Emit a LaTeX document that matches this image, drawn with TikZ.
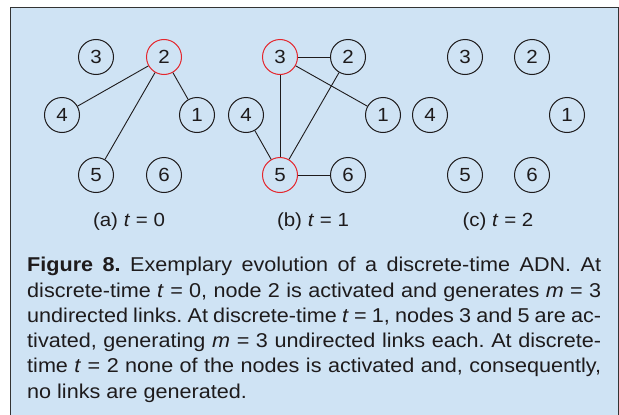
\documentclass[tikz,border=0pt]{standalone}
\usepackage{fontspec}
\setmainfont[FakeStretch=1.08]{Liberation Sans}
\definecolor{bgblue}{RGB}{207,227,244}
\definecolor{actred}{RGB}{228,38,45}
\definecolor{txt}{RGB}{30,27,28}
\begin{document}
\frenchspacing
\begin{tikzpicture}[x=1pt,y=-1pt,
  nd/.style={circle,draw=txt,line width=1pt,minimum size=35pt,inner sep=0pt,font=\fontsize{19}{19}\selectfont,text=txt},
  act/.style={draw=actred},
  edge/.style={draw=txt,line width=0.9pt},
  subcap/.style={anchor=base,inner sep=0pt,font=\fontsize{19}{19}\selectfont,text=txt},
  tline/.style={anchor=base west,inner sep=0pt,font=\fontsize{20}{20}\selectfont,text=txt}]
\useasboundingbox (0,0) rectangle (619,415);
\begin{scope}
\clip (0,0) rectangle (619,415);
\draw[fill=bgblue,draw=black!80,line width=1pt] (10,7) rectangle (618,440);
\end{scope}
% (a)
\node[nd] (a3) at (96,57) {3};
\node[nd,act] (a2) at (164,57) {2};
\node[nd] (a4) at (62,115) {4};
\node[nd] (a1) at (197,115) {1};
\node[nd] (a5) at (96,175) {5};
\node[nd] (a6) at (164,175) {6};
\draw[edge] (a2) -- (a4);
\draw[edge] (a2) -- (a5);
\draw[edge] (a2) -- (a1);
% (b)
\node[nd,act] (b3) at (280,57) {3};
\node[nd] (b2) at (348,57) {2};
\node[nd] (b4) at (246,115) {4};
\node[nd] (b1) at (383,115) {1};
\node[nd,act] (b5) at (280,175) {5};
\node[nd] (b6) at (348,175) {6};
\draw[edge] (b3) -- (b2);
\draw[edge] (b3) -- (b1);
\draw[edge] (b3) -- (b5);
\draw[edge] (b5) -- (b2);
\draw[edge] (b5) -- (b4);
\draw[edge] (b5) -- (b6);
% (c)
\node[nd] (c3) at (465,57) {3};
\node[nd] (c2) at (532,57) {2};
\node[nd] (c4) at (430,115) {4};
\node[nd] (c1) at (567,115) {1};
\node[nd] (c5) at (465,175) {5};
\node[nd] (c6) at (532,175) {6};
% captions
\node[subcap] (capa) at (129,226) {(a) \textit{t} = 0};
\node[subcap] (capb) at (313,226) {(b) \textit{t} = 1};
\node[subcap] (capc) at (498,226) {(c) \textit{t} = 2};
% text
\node[tline] (l1) at (27,271.7) {\makebox[574pt][s]{\textbf{Figure 8.} Exemplary evolution of a discrete-time ADN. At}};
\node[tline] (l2) at (27,297) {\makebox[574pt][s]{discrete-time \textit{t} = 0, node 2 is activated and generates \textit{m} = 3}};
\node[tline] (l3) at (27,322.3) {\makebox[574pt][s]{undirected links. At discrete-time \textit{t} = 1, nodes 3 and 5 are ac-}};
\node[tline] (l4) at (27,347.6) {\makebox[574pt][s]{tivated, generating \textit{m} = 3 undirected links each. At discrete-}};
\node[tline] (l5) at (27,372.9) {\makebox[574pt][s]{time \textit{t} = 2 none of the nodes is activated and, consequently,}};
\node[tline] (l6) at (27,398.2) {no links are generated.};
\end{tikzpicture}
\end{document}
